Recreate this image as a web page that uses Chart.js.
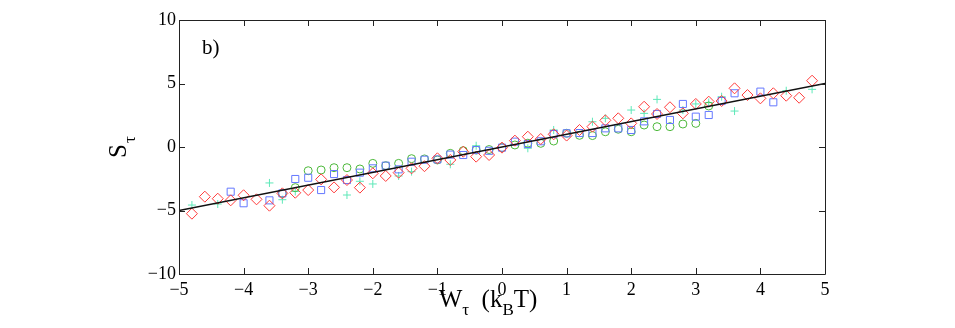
<!DOCTYPE html>
<html><head><meta charset="utf-8">
<script src="https://cdn.jsdelivr.net/npm/chart.js@4"></script>
<style>html,body{margin:0;padding:0;background:#fff;}#wrap{position:relative;width:955px;height:328px;}</style>
</head><body><div id="wrap"><canvas id="c" width="955" height="328"></canvas></div>
<script>
const xTicks = [-5,-4,-3,-2,-1,0,1,2,3,4,5];
const yTicks = [-10,-5,0,5,10];
const panelLabel = 'b)';

const redX = [-4.8,-4.6,-4.4,-4.2,-4.0,-3.8,-3.6,-3.4,-3.2,-3.0,-2.8,-2.6,-2.4,-2.2,-2.0,-1.8,-1.6,-1.4,-1.2,-1.0,-0.8,-0.6,-0.4,-0.2,0,0.2,0.4,0.6,0.8,1.0,1.2,1.4,1.6,1.8,2.0,2.2,2.4,2.6,2.8,3.0,3.2,3.4,3.6,3.8,4.0,4.2,4.4,4.6,4.8];
const redY = [-5.25,-3.91,-4.07,-4.2,-3.8,-4.12,-4.62,-3.65,-3.6,-3.39,-2.55,-3.18,-2.6,-3.2,-2.07,-2.28,-2.02,-1.68,-1.51,-0.89,-1.02,-0.37,-0.76,-0.63,-0.05,0.5,0.81,0.63,1.0,0.9,1.34,1.6,2.1,2.26,1.86,3.17,2.6,3.13,2.65,3.39,3.57,3.62,4.62,4.09,3.83,4.23,4.04,3.88,5.22];

const blueX = [-4.2,-4.0,-3.6,-3.4,-3.2,-3.0,-2.8,-2.6,-2.4,-2.2,-2.0,-1.8,-1.6,-1.4,-1.2,-1.0,-0.8,-0.6,-0.4,-0.2,0,0.2,0.4,0.6,0.8,1.0,1.2,1.4,1.6,1.8,2.0,2.2,2.4,2.6,2.8,3.0,3.2,3.4,3.6,4.0,4.2];
const blueY = [-3.52,-4.43,-4.2,-3.65,-2.52,-2.42,-3.39,-2.13,-2.6,-2.02,-1.68,-1.47,-1.76,-1.16,-1.0,-0.98,-0.6,-0.63,-0.24,-0.3,-0.05,0.42,0.24,0.45,1.02,1.08,1.1,1.1,1.47,1.47,1.34,2.02,2.6,2.13,3.39,2.39,2.52,3.62,4.23,4.36,3.52];

const greenX = [-3.4,-3.2,-3.0,-2.8,-2.6,-2.4,-2.2,-2.0,-1.8,-1.6,-1.4,-1.2,-1.0,-0.8,-0.6,-0.4,-0.2,0,0.2,0.4,0.6,0.8,1.0,1.2,1.4,1.6,1.8,2.0,2.2,2.4,2.6,2.8,3.0,3.2];
const greenY = [-3.65,-3.2,-1.87,-1.81,-1.63,-1.63,-1.73,-1.29,-1.47,-1.29,-0.92,-0.94,-1.02,-0.5,-0.29,-0.24,-0.2,-0.05,0.16,0.3,0.29,0.47,1.08,0.92,0.9,1.2,1.4,1.2,1.73,1.6,1.6,1.81,1.86,3.23];

const cyanX = [-4.8,-4.4,-3.6,-3.4,-3.2,-2.4,-2.2,-2.0,-1.6,-1.4,-0.8,-0.4,0.4,0.8,1.4,1.6,2.0,2.2,2.4,2.8,3.0,3.2,3.4,3.6,4.4,4.8];
const cyanY = [-4.57,-4.49,-2.83,-4.15,-3.5,-3.78,-2.7,-2.91,-2.28,-1.94,-1.36,0.1,-0.1,1.34,1.99,2.26,2.91,2.65,3.75,2.91,3.39,3.5,3.96,2.83,4.43,4.54];

const fitX = [-5, 5];
const fitY = [-5, 5];

const zip = (xs, ys) => xs.map((x, i) => ({x, y: ys[i]}));
const SERIF = '"Liberation Serif", "Times New Roman", serif';
const minus = v => String(v).replace('-', '\u2212');

const framePlugin = {
  id: 'frame',
  afterDraw(chart) {
    const {ctx, chartArea: a, scales} = chart;
    ctx.save();
    ctx.strokeStyle = '#222';
    ctx.lineWidth = 1;
    ctx.beginPath();
    ctx.rect(Math.round(a.left) + 0.5, Math.round(a.top) + 0.5, Math.round(a.right - a.left), Math.round(a.bottom - a.top));
    ctx.stroke();
    const tl = 6;
    ctx.beginPath();
    xTicks.forEach(v => {
      const px = Math.round(scales.x.getPixelForValue(v)) + 0.5;
      ctx.moveTo(px, a.bottom); ctx.lineTo(px, a.bottom - tl);
      ctx.moveTo(px, a.top); ctx.lineTo(px, a.top + tl);
    });
    yTicks.forEach(v => {
      const py = Math.round(scales.y.getPixelForValue(v)) + 0.5;
      ctx.moveTo(a.left, py); ctx.lineTo(a.left + tl, py);
      ctx.moveTo(a.right, py); ctx.lineTo(a.right - tl, py);
    });
    ctx.stroke();

    ctx.fillStyle = '#000';
    ctx.textBaseline = 'alphabetic';
    ctx.textAlign = 'left';
    ctx.font = '21px ' + SERIF;
    ctx.fillText(panelLabel, a.left + 23, a.top + 34);

    const big = '25px ' + SERIF, small = '17px ' + SERIF;
    const parts = [['W', big, 0], ['\u03c4', small, 8], ['  (k', big, 0], ['B', small, 8], ['T)', big, 0]];
    let w = 0;
    parts.forEach(p => { ctx.font = p[1]; w += ctx.measureText(p[0]).width; });
    let x0 = (a.left + a.right) / 2 - w / 2 - 14;
    const base = 307;
    parts.forEach(p => { ctx.font = p[1]; ctx.fillText(p[0], x0, base + p[2]); x0 += ctx.measureText(p[0]).width; });

    ctx.translate(126, 158);
    ctx.rotate(-Math.PI / 2);
    ctx.font = big;
    ctx.fillText('S', 0, 0);
    const sw = ctx.measureText('S').width;
    ctx.font = small;
    ctx.fillText('\u03c4', sw + 1, 9);
    ctx.restore();
  }
};

const tickFont = {family: SERIF, size: 18};

new Chart(document.getElementById('c'), {
  type: 'scatter',
  data: {
    datasets: [
      {type: 'line', data: zip(fitX, fitY), borderColor: '#111', borderWidth: 1.3, pointRadius: 0, fill: false, order: 0},
      {data: zip(redX, redY), pointStyle: 'rectRot', pointRadius: 5.5, borderColor: '#ff3a3a', backgroundColor: 'rgba(0,0,0,0)', pointBorderWidth: 1, order: 1},
      {data: zip(blueX, blueY), pointStyle: 'rect', pointRadius: 5, borderColor: '#6478ff', backgroundColor: 'rgba(0,0,0,0)', pointBorderWidth: 1, order: 2},
      {data: zip(greenX, greenY), pointStyle: 'circle', pointRadius: 4, borderColor: '#4cb83a', backgroundColor: 'rgba(0,0,0,0)', pointBorderWidth: 1, order: 3},
      {data: zip(cyanX, cyanY), pointStyle: 'cross', pointRadius: 4, borderColor: '#5ee8b8', backgroundColor: 'rgba(0,0,0,0)', pointBorderWidth: 1, order: 4}
    ]
  },
  options: {
    responsive: false,
    animation: false,
    layout: {padding: {left: 0, right: 130, top: 20, bottom: 0}},
    plugins: {legend: {display: false}, tooltip: {enabled: false}},
    scales: {
      x: {
        type: 'linear', min: -5, max: 5,
        afterBuildTicks: s => { s.ticks = xTicks.map(v => ({value: v})); },
        afterFit: s => { s.height = 54; },
        grid: {display: false, drawTicks: false}, border: {display: false},
        ticks: {font: tickFont, color: '#000', padding: 5, maxRotation: 0, autoSkip: false, callback: v => minus(v)}
      },
      y: {
        type: 'linear', min: -10, max: 10,
        afterBuildTicks: s => { s.ticks = yTicks.map(v => ({value: v})); },
        afterFit: s => { s.width = 179; },
        grid: {display: false, drawTicks: false}, border: {display: false},
        ticks: {font: tickFont, color: '#000', padding: 3, autoSkip: false, callback: v => minus(v)}
      }
    }
  },
  plugins: [framePlugin]
});
</script></body></html>
